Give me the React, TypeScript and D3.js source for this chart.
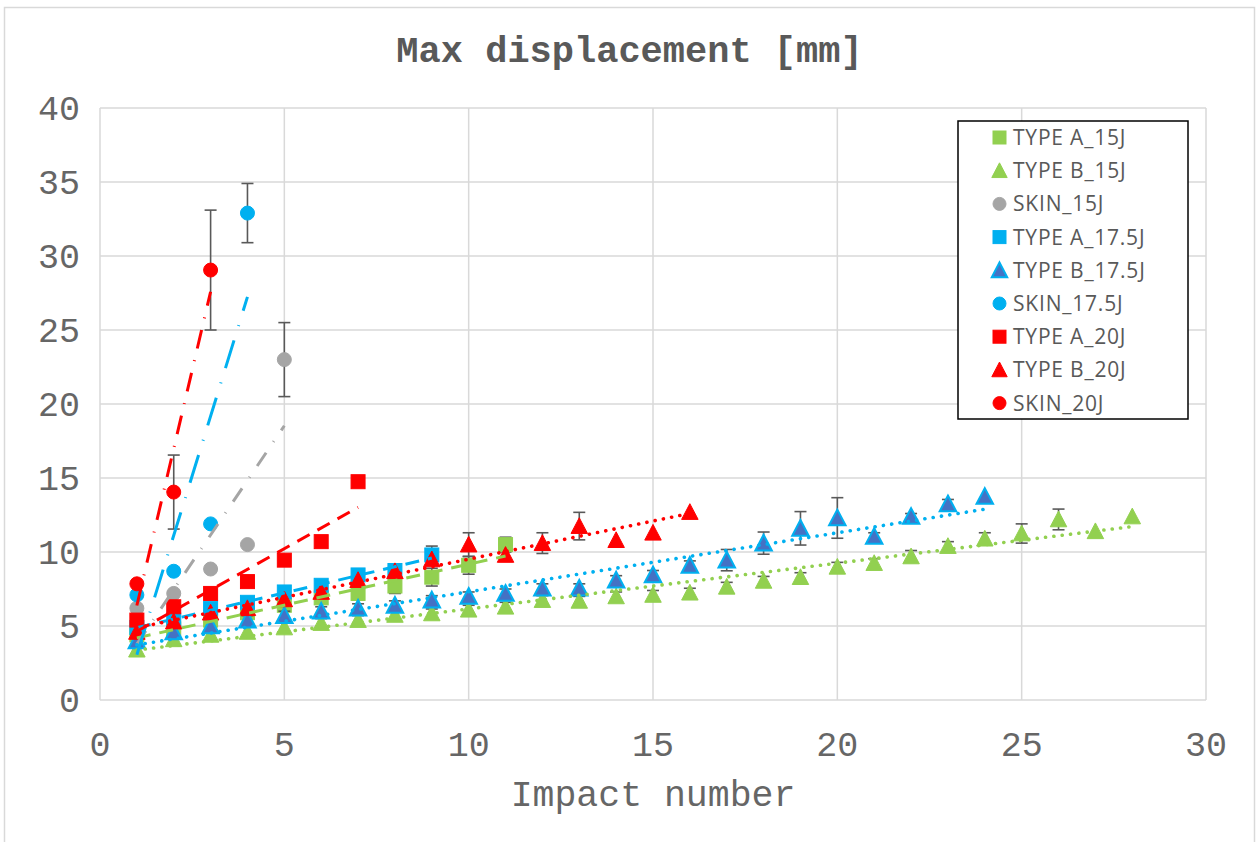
import React from 'react';
import * as d3 from 'd3';

const W = 1259;
const H = 842;

const xTicks = [0, 5, 10, 15, 20, 25, 30];
const yTicks = [0, 5, 10, 15, 20, 25, 30, 35, 40];

const seriesNames = ['TYPE A_15J', 'TYPE B_15J', 'SKIN_15J', 'TYPE A_17.5J', 'TYPE B_17.5J', 'SKIN_17.5J', 'TYPE A_20J', 'TYPE B_20J', 'SKIN_20J'];

const typeA15 = [4.4, 4.8, 5.4, 5.9, 6.4, 6.9, 7.2, 7.7, 8.3, 9.1, 10.5];
const typeA15Err = [0, 0, 0, 0.3, 0.3, 0.3, 0.4, 0.5, 0.6, 0.6, 0.5];

const typeB15 = [3.4, 4.1, 4.4, 4.6, 4.9, 5.2, 5.4, 5.75, 5.85, 6.1, 6.3, 6.75, 6.7, 7.0, 7.1, 7.25, 7.65, 8.05, 8.3, 9.0, 9.25, 9.7, 10.4, 10.9, 11.25, 12.2, 11.4, 12.4];
const typeB15Err = [0, 0, 0, 0, 0.3, 0.3, 0.3, 0.3, 0.3, 0.3, 0.3, 0.3, 0.3, 0.3, 0.3, 0.3, 0.3, 0.3, 0.3, 0.3, 0.3, 0.4, 0.3, 0.4, 0.65, 0.7, 0, 0];

const skin15 = [6.2, 7.2, 8.85, 10.5, 23.0];
const skin15Err = [0, 0, 0, 0, 2.5];

const typeA175 = [4.9, 5.4, 6.2, 6.6, 7.3, 7.75, 8.45, 8.75, 9.8];
const typeA175Err = [0, 0, 0.3, 0.3, 0.3, 0.3, 0.3, 0.4, 0.6];

const typeB175 = [4.0, 4.6, 5.0, 5.4, 5.7, 6.0, 6.2, 6.4, 6.75, 7.0, 7.2, 7.55, 7.55, 8.1, 8.45, 9.1, 9.45, 10.6, 11.6, 12.3, 11.05, 12.4, 13.25, 13.75];
const typeB175Err = [0, 0, 0, 0.3, 0.3, 0.3, 0.3, 0.3, 0.3, 0.3, 0.3, 0.3, 0.3, 0.3, 0.3, 0.3, 0.72, 0.75, 1.13, 1.37, 0.25, 0.2, 0.3, 0];

const skin175 = [7.1, 8.7, 11.9, 32.9];
const skin175Err = [0, 0, 0, 2.0];

const typeA20 = [5.4, 6.3, 7.2, 8.0, 9.45, 10.7, 14.75];
const typeA20Err = [0, 0, 0, 0, 0, 0, 0];

const typeB20 = [4.6, 5.3, 5.9, 6.2, 6.8, 7.3, 8.1, 8.7, 9.5, 10.5, 9.8, 10.6, 11.75, 10.8, 11.3, 12.7];
const typeB20Err = [0, 0, 0, 0, 0, 0, 0, 0, 0, 0.8, 0, 0.7, 0.93, 0, 0, 0];

const skin20 = [7.85, 14.05, 29.05];
const skin20Err = [0, 2.5, 4.05];

type Marker = 'square' | 'triangle' | 'circle';
interface Series {
  name: string;
  values: number[];
  errors: number[];
  marker: Marker;
  fill: string;
  stroke: string;
  lineColor: string;
  dash: string;
  cap: 'round' | 'butt';
}

const GREEN = '#92D050';
const GRAY = '#A5A5A5';
const BLUE = '#00B0F0';
const DBLUE = '#4472C4';
const RED = '#FF0000';

const series: Series[] = [
  { name: seriesNames[0], values: typeA15, errors: typeA15Err, marker: 'square', fill: GREEN, stroke: GREEN, lineColor: GREEN, dash: '14 9', cap: 'butt' },
  { name: seriesNames[1], values: typeB15, errors: typeB15Err, marker: 'triangle', fill: GREEN, stroke: GREEN, lineColor: GREEN, dash: '0.1 8.3', cap: 'round' },
  { name: seriesNames[2], values: skin15, errors: skin15Err, marker: 'circle', fill: GRAY, stroke: GRAY, lineColor: GRAY, dash: '16 13 1 13', cap: 'butt' },
  { name: seriesNames[3], values: typeA175, errors: typeA175Err, marker: 'square', fill: BLUE, stroke: BLUE, lineColor: BLUE, dash: '14 9', cap: 'butt' },
  { name: seriesNames[4], values: typeB175, errors: typeB175Err, marker: 'triangle', fill: DBLUE, stroke: BLUE, lineColor: BLUE, dash: '0.1 8.3', cap: 'round' },
  { name: seriesNames[5], values: skin175, errors: skin175Err, marker: 'circle', fill: BLUE, stroke: BLUE, lineColor: BLUE, dash: '29 15 1 15', cap: 'butt' },
  { name: seriesNames[6], values: typeA20, errors: typeA20Err, marker: 'square', fill: RED, stroke: RED, lineColor: RED, dash: '14 9', cap: 'butt' },
  { name: seriesNames[7], values: typeB20, errors: typeB20Err, marker: 'triangle', fill: RED, stroke: RED, lineColor: RED, dash: '0.1 8.3', cap: 'round' },
  { name: seriesNames[8], values: skin20, errors: skin20Err, marker: 'circle', fill: RED, stroke: RED, lineColor: RED, dash: '19 12 1 12', cap: 'butt' },
];

const plot = { left: 100, right: 1206, top: 108, bottom: 700 };

const x = d3.scaleLinear().domain([0, 30]).range([plot.left, plot.right]);
const y = d3.scaleLinear().domain([0, 40]).range([plot.bottom, plot.top]);

function regression(vals: number[]) {
  const xs = vals.map((_, i) => i + 1);
  const mx = d3.mean(xs) as number;
  const my = d3.mean(vals) as number;
  let num = 0;
  let den = 0;
  xs.forEach((xi, i) => {
    num += (xi - mx) * (vals[i] - my);
    den += (xi - mx) * (xi - mx);
  });
  const slope = num / den;
  const intercept = my - slope * mx;
  return { slope, intercept, x0: 1, x1: xs[xs.length - 1] };
}

function MarkerShape({ type, cx, cy, fill, stroke, size }: { type: Marker; cx: number; cy: number; fill: string; stroke: string; size: number }) {
  if (type === 'square') {
    return <rect x={cx - size / 2} y={cy - size / 2} width={size} height={size} fill={fill} stroke={stroke} strokeWidth={1} />;
  }
  if (type === 'circle') {
    return <circle cx={cx} cy={cy} r={size / 2} fill={fill} stroke={stroke} strokeWidth={1} />;
  }
  const w = size * 1.1;
  const h = size * 0.98;
  const p = `M${cx},${cy - h / 2 - 1}L${cx + w / 2},${cy + h / 2}L${cx - w / 2},${cy + h / 2}Z`;
  return <path d={p} fill={fill} stroke={stroke} strokeWidth={stroke === fill ? 1 : 2} strokeLinejoin="miter" />;
}

const MONO = "'Liberation Mono', 'Courier New', monospace";

export default function App() {
  const lineGen = d3.line<[number, number]>().x((d) => x(d[0])).y((d) => y(d[1]));
  const legendX = 958;
  const legendY = 121;
  const legendRowH = 33.2;
  return (
    <svg width={W} height={H} style={{ position: 'absolute', left: 0, top: 0, background: '#fff' }}>
      <rect x={0} y={0} width={W} height={H} fill="#fff" />
      <rect x={4.5} y={7.5} width={1250} height={850} fill="#fff" stroke="#D9D9D9" strokeWidth={1.5} />
      {yTicks.map((t) => (
        <line key={'gy' + t} x1={plot.left} x2={plot.right} y1={y(t)} y2={y(t)} stroke="#D9D9D9" strokeWidth={1.5} />
      ))}
      {xTicks.map((t) => (
        <line key={'gx' + t} x1={x(t)} x2={x(t)} y1={plot.top} y2={plot.bottom} stroke="#D9D9D9" strokeWidth={1.5} />
      ))}
      {yTicks.map((t) => (
        <text key={'ty' + t} x={80} y={y(t)} dy="0.35em" textAnchor="end" fontFamily={MONO} fontSize={35} fill="#666">
          {t}
        </text>
      ))}
      {xTicks.map((t) => (
        <text key={'tx' + t} x={x(t)} y={744} dy="0.35em" textAnchor="middle" fontFamily={MONO} fontSize={35} fill="#666">
          {t}
        </text>
      ))}
      <text x={(plot.left + plot.right) / 2} y={793} dy="0.35em" textAnchor="middle" fontFamily={MONO} fontSize={36.5} fill="#666">
        Impact number
      </text>
      <text x={629.5} y={49} dy="0.35em" textAnchor="middle" fontFamily={MONO} fontWeight="bold" fontSize={37} fill="#595959">
        Max displacement [mm]
      </text>
      {series.map((s, si) => (
        <g key={'s' + si}>
          {s.values.map((v, i) =>
            s.errors[i] > 0 ? (
              <g key={'e' + i} stroke="#595959" strokeWidth={1.6}>
                <line x1={x(i + 1)} x2={x(i + 1)} y1={y(v - s.errors[i])} y2={y(v + s.errors[i])} />
                <line x1={x(i + 1) - 6} x2={x(i + 1) + 6} y1={y(v - s.errors[i])} y2={y(v - s.errors[i])} />
                <line x1={x(i + 1) - 6} x2={x(i + 1) + 6} y1={y(v + s.errors[i])} y2={y(v + s.errors[i])} />
              </g>
            ) : null
          )}
          {s.values.map((v, i) => (
            <MarkerShape key={'m' + i} type={s.marker} cx={x(i + 1)} cy={y(v)} fill={s.fill} stroke={s.stroke} size={s.marker === 'triangle' ? 15 : 14} />
          ))}
        </g>
      ))}
      {series.map((s, si) => {
        const r = regression(s.values);
        const pts: [number, number][] = [
          [r.x0, r.intercept + r.slope * r.x0],
          [r.x1, r.intercept + r.slope * r.x1],
        ];
        return (
          <path key={'t' + si} d={lineGen(pts) as string} fill="none" stroke={s.lineColor} strokeWidth={s.cap === 'round' ? 3.6 : 3} strokeDasharray={s.dash} strokeLinecap={s.cap} />
        );
      })}
      <rect x={legendX} y={legendY} width={230} height={298} fill="#fff" stroke="#000" strokeWidth={1.5} />
      {series.map((s, i) => {
        const cy = legendY + 16.5 + i * legendRowH;
        return (
          <g key={'l' + i}>
            <MarkerShape type={s.marker} cx={999.5} cy={cy} fill={s.fill} stroke={s.stroke} size={s.marker === 'triangle' ? 14 : 13} />
            <text x={1013} y={cy} dy="0.36em" fontFamily="'Open Sans', 'Noto Sans', sans-serif" fontSize={21} letterSpacing={0.8} fill="#595959">
              {s.name}
            </text>
          </g>
        );
      })}
    </svg>
  );
}
